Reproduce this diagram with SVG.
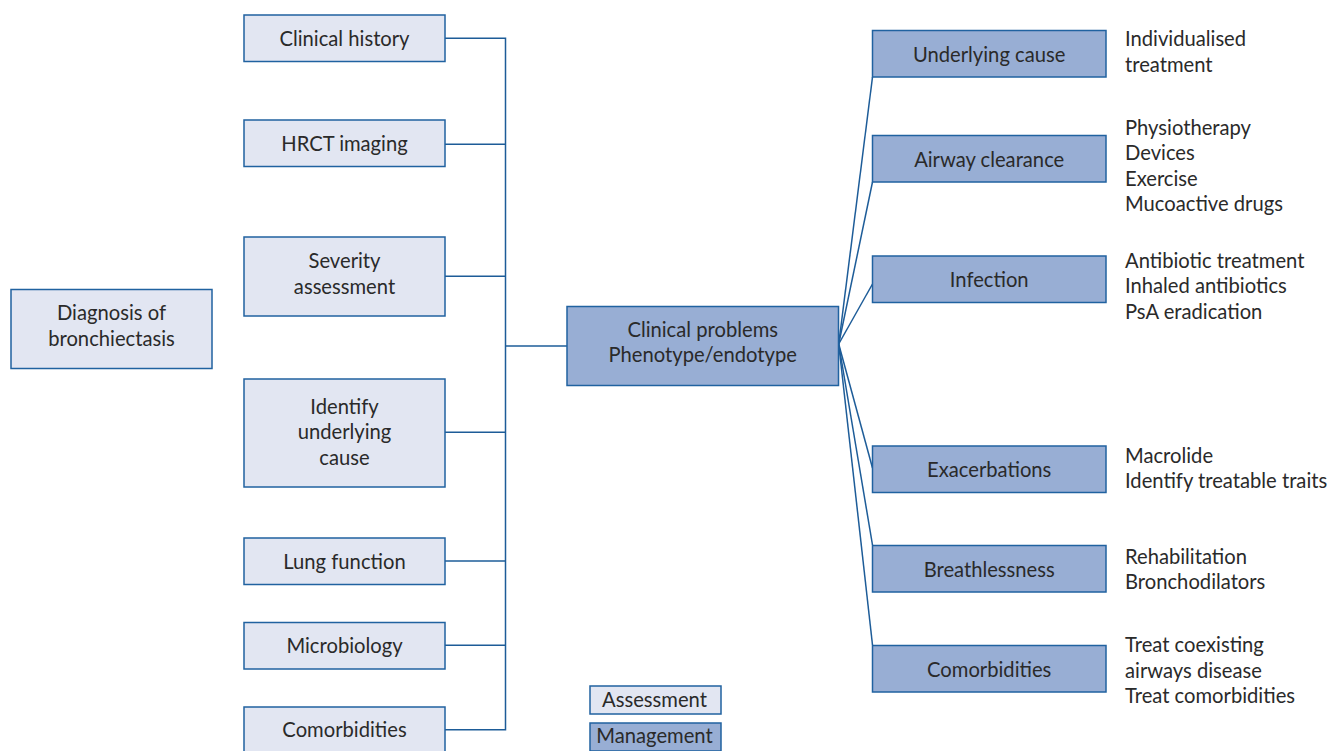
<svg xmlns="http://www.w3.org/2000/svg" width="1329" height="751" viewBox="0 0 1329 751">
<style>
.a{fill:#e2e6f2;stroke:#2062a0;stroke-width:1.5}
.m{fill:#98aed4;stroke:#2062a0;stroke-width:1.5}
.c{fill:none;stroke:#1d5c98;stroke-width:1.5}
text{font-family:Lato,"Liberation Sans",sans-serif;font-size:20.2px;fill:#2a2a2a}
.t{text-anchor:middle}
</style>
<rect width="1329" height="751" fill="#ffffff"/>
<g id="connectors">
<polyline class="c" points="445,38.3 505.5,38.3 505.5,729.7 445,729.7"/>
<line class="c" x1="445" y1="144.3" x2="505.5" y2="144.3"/>
<line class="c" x1="445" y1="276.3" x2="505.5" y2="276.3"/>
<line class="c" x1="445" y1="432.3" x2="505.5" y2="432.3"/>
<line class="c" x1="445" y1="561" x2="505.5" y2="561"/>
<line class="c" x1="445" y1="645.3" x2="505.5" y2="645.3"/>
<line class="c" x1="505.5" y1="346" x2="567" y2="346"/>
<g stroke-width="1.3">
<line class="c" x1="838.7" y1="344" x2="872.5" y2="77"/>
<line class="c" x1="838.7" y1="344" x2="872.5" y2="182"/>
<line class="c" x1="838.7" y1="344" x2="872.5" y2="284"/>
<line class="c" x1="838.7" y1="344" x2="872.5" y2="468"/>
<line class="c" x1="838.7" y1="344" x2="872.5" y2="545"/>
<line class="c" x1="838.7" y1="344" x2="872.5" y2="645"/>
</g>
</g>
<g id="n-diagnosis"><rect class="a" x="11" y="289.5" width="201" height="79"/><text class="t" x="111.5" y="320">Diagnosis of</text><text class="t" x="111.5" y="345.5">bronchiectasis</text></g>
<g id="n-clinical-history"><rect class="a" x="244" y="15" width="201" height="46.5"/><text class="t" x="344.5" y="45.5">Clinical history</text></g>
<g id="n-hrct"><rect class="a" x="244" y="120" width="201" height="46.5"/><text class="t" x="344.5" y="150.5">HRCT imaging</text></g>
<g id="n-severity"><rect class="a" x="244" y="237" width="201" height="79"/><text class="t" x="344.5" y="268">Severity</text><text class="t" x="344.5" y="293.5">assessment</text></g>
<g id="n-identify"><rect class="a" x="244" y="379" width="201" height="108"/><text class="t" x="344.5" y="413.5">Identify</text><text class="t" x="344.5" y="439">underlying</text><text class="t" x="344.5" y="464.5">cause</text></g>
<g id="n-lung"><rect class="a" x="244" y="538" width="201" height="46.5"/><text class="t" x="344.5" y="568.5">Lung function</text></g>
<g id="n-micro"><rect class="a" x="244" y="622.5" width="201" height="46.5"/><text class="t" x="344.5" y="652.5">Microbiology</text></g>
<g id="n-comorb-a"><rect class="a" x="244" y="707" width="201" height="47"/><text class="t" x="344.5" y="737">Comorbidities</text></g>
<g id="n-clinical-problems"><rect class="m" x="567" y="306.5" width="271.5" height="79"/><text class="t" x="702.7" y="337">Clinical problems</text><text class="t" x="702.7" y="362">Phenotype/endotype</text></g>
<g id="n-underlying"><rect class="m" x="872.5" y="30.5" width="233.5" height="46.5"/><text class="t" x="989.2" y="61.5">Underlying cause</text></g>
<g id="n-airway"><rect class="m" x="872.5" y="135.5" width="233.5" height="46.5"/><text class="t" x="989.2" y="166.5">Airway clearance</text></g>
<g id="n-infection"><rect class="m" x="872.5" y="256" width="233.5" height="46.5"/><text class="t" x="989.2" y="287">Infection</text></g>
<g id="n-exacerbations"><rect class="m" x="872.5" y="446" width="233.5" height="46.5"/><text class="t" x="989.2" y="477">Exacerbations</text></g>
<g id="n-breathlessness"><rect class="m" x="872.5" y="545.5" width="233.5" height="46.5"/><text class="t" x="989.2" y="576.5">Breathlessness</text></g>
<g id="n-comorb-m"><rect class="m" x="872.5" y="645.5" width="233.5" height="46.5"/><text class="t" x="989.2" y="676.5">Comorbidities</text></g>
<g id="notes">
<text x="1125" y="46">Individualised</text><text x="1125" y="71.7">treatment</text>
<text x="1125" y="134.5">Physiotherapy</text><text x="1125" y="160">Devices</text><text x="1125" y="185.5">Exercise</text><text x="1125" y="211">Mucoactive drugs</text>
<text x="1125" y="267.5">Antibiotic treatment</text><text x="1125" y="293">Inhaled antibiotics</text><text x="1125" y="318.5">PsA eradication</text>
<text x="1125" y="462.5">Macrolide</text><text x="1125" y="488">Identify treatable traits</text>
<text x="1125" y="563.5">Rehabilitation</text><text x="1125" y="589">Bronchodilators</text>
<text x="1125" y="652">Treat coexisting</text><text x="1125" y="677.5">airways disease</text><text x="1125" y="703">Treat comorbidities</text>
</g>
<g id="legend">
<rect class="a" x="590" y="686" width="131" height="28"/><text class="t" x="654.5" y="706.5">Assessment</text>
<rect class="m" x="590" y="723" width="131" height="28"/><text class="t" x="654.5" y="743">Management</text>
</g>
</svg>
